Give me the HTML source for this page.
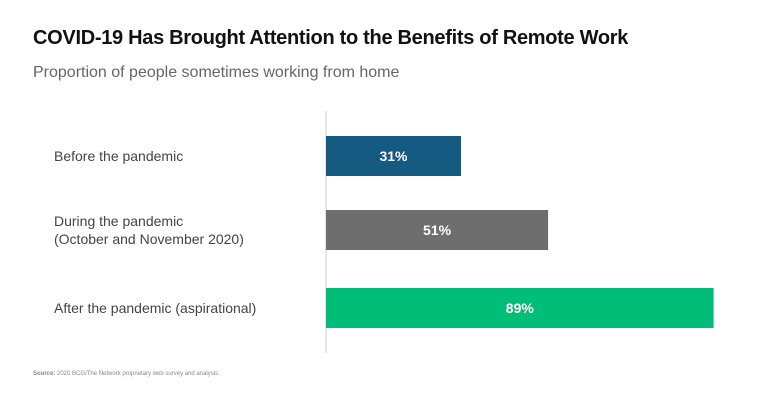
<!DOCTYPE html>
<html><head><meta charset="utf-8"><style>
body{margin:0;width:768px;height:403px;background:#fff;font-family:"Liberation Sans",sans-serif;overflow:hidden;position:relative}
.t{position:absolute;left:33px;top:27px;font-size:20px;font-weight:bold;color:#111;letter-spacing:-0.3px}
.s{position:absolute;left:33px;top:64px;font-size:16px;color:#666}
.src{position:absolute;left:33px;top:371px;font-size:6px;color:#888}
</style></head><body>
<div class="t">COVID-19 Has Brought Attention to the Benefits of Remote Work</div>
<div class="s">Proportion of people sometimes working from home</div>
<svg id="c" width="768" height="403" style="position:absolute;left:0;top:0"></svg>
<div class="src"><b>Source:</b> 2020 BCG/The Network proprietary web survey and analysis.</div>
<script>
const categories=[["Before the pandemic"],["During the pandemic","(October and November 2020)"],["After the pandemic (aspirational)"]];
const values=[31,51,89];
const colors=["#155a80","#6e6e6e","#00bd78"];
const svg=document.getElementById('c');
const NS="http://www.w3.org/2000/svg";
const x0=326,k=4.355;
const x=v=>x0+v*k;
const bandY=[136,210,288],bh=40;
const y=i=>bandY[i];
const ax=document.createElementNS(NS,'line');


ax.setAttribute('x1',x0);ax.setAttribute('x2',x0);ax.setAttribute('y1',111);ax.setAttribute('y2',353);
ax.setAttribute('stroke','#ccc');ax.setAttribute('stroke-width','1');
svg.appendChild(ax);
values.forEach((v,i)=>{
 const r=document.createElementNS(NS,'rect');
 
 
 r.setAttribute('x',x0);r.setAttribute('y',y(i));r.setAttribute('width',x(v)-x0);r.setAttribute('height',bh);r.setAttribute('fill',colors[i]);
 svg.appendChild(r);
 const t=document.createElementNS(NS,'text');
 
 
 t.setAttribute('x',(x0+x(v))/2);t.setAttribute('y',y(i)+bh/2+5);t.setAttribute('text-anchor','middle');
 t.setAttribute('fill','#fff');t.setAttribute('font-size','14');t.setAttribute('font-weight','bold');
 t.textContent=v+'%';svg.appendChild(t);
 const lines=categories[i];
 lines.forEach((ln,j)=>{
  const l=document.createElementNS(NS,'text');
  
  
  const cy=y(i)+bh/2+5-(lines.length-1)*9+j*18;
  l.setAttribute('x',54);l.setAttribute('y',cy);l.setAttribute('fill','#444');l.setAttribute('font-size','14');
  l.textContent=ln;svg.appendChild(l);
 });
});
</script>
</body></html>
